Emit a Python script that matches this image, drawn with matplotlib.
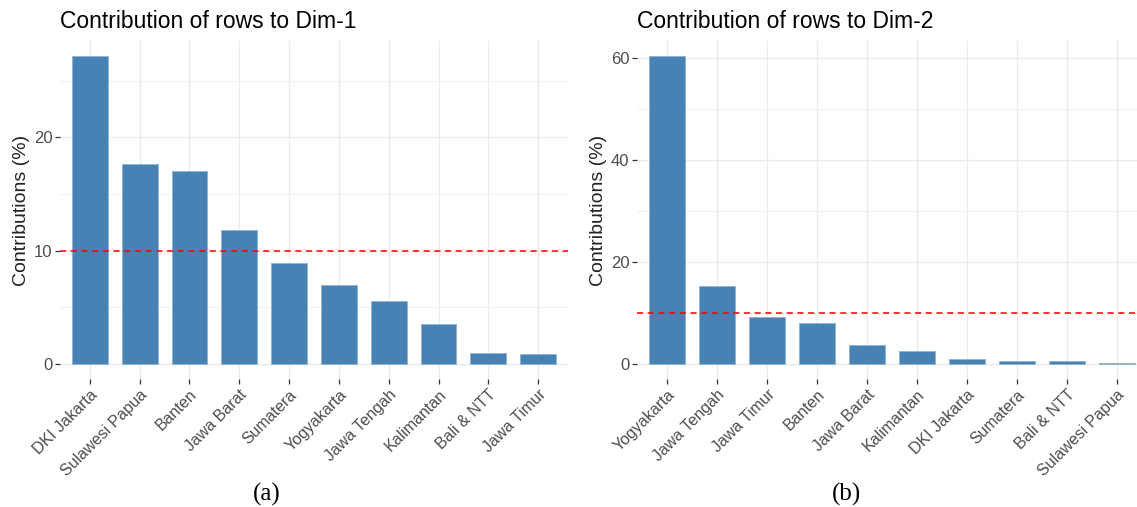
import matplotlib
matplotlib.use('Agg')
import matplotlib.pyplot as plt
import matplotlib.transforms as mtrans
import numpy as np

plt.rcParams['font.family'] = ['Liberation Sans', 'DejaVu Sans']

# contributions of rows, sorted as in each panel
dim1_labels = ['DKI Jakarta', 'Sulawesi Papua', 'Banten', 'Jawa Barat', 'Sumatera',
               'Yogyakarta', 'Jawa Tengah', 'Kalimantan', 'Bali & NTT', 'Jawa Timur']
dim1_values = [27.2, 17.7, 17.0, 11.8, 8.9, 7.0, 5.6, 3.5, 1.0, 0.9]

dim2_labels = ['Yogyakarta', 'Jawa Tengah', 'Jawa Timur', 'Banten', 'Jawa Barat',
               'Kalimantan', 'DKI Jakarta', 'Sumatera', 'Bali & NTT', 'Sulawesi Papua']
dim2_values = [60.5, 15.3, 9.2, 8.1, 3.8, 2.55, 1.0, 0.5, 0.5, 0.15]

expected = 10  # 100 / number of rows

bar_color = '#4682B4'
grid_color = '#EBEBEB'
text_grey = '#4D4D4D'

W, H = 1137, 507
fig = plt.figure(figsize=(W / 100, H / 100), dpi=100)


def draw_panel(rect, labels, values, title, major, caption, caption_x):
    ax = fig.add_axes(rect)
    x = np.arange(len(labels))
    ax.bar(x, values, width=0.72, color=bar_color, edgecolor='#8FB3D3',
           linewidth=0.6, zorder=3)
    ax.axhline(expected, color='red', linestyle=(0, (4, 3)), linewidth=1.1, zorder=4)

    top = max(values)
    ax.set_xlim(-0.6, len(labels) - 0.4)
    ax.set_ylim(-0.05 * top, top * 1.05)

    ax.set_xticks(x)
    ax.set_xticklabels(labels, rotation=45, ha='right', va='top',
                       rotation_mode='anchor', fontsize=11.5, color=text_grey)
    # nudge rotated labels a little right/down
    shift = mtrans.ScaledTranslation(5 / 100, -3 / 100, fig.dpi_scale_trans)
    for lab in ax.get_xticklabels():
        lab.set_transform(lab.get_transform() + shift)

    yt = np.arange(0, top + 1, major)
    ax.set_yticks(yt)
    ax.set_yticklabels([str(int(v)) for v in yt], fontsize=12, color=text_grey)
    ax.set_yticks(np.arange(major / 2, top * 1.05, major), minor=True)

    ax.grid(True, which='major', color=grid_color, linewidth=1.0, zorder=0)
    ax.grid(True, which='minor', axis='y', color='#F2F2F2', linewidth=0.8, zorder=0)
    ax.tick_params(axis='both', which='major', length=3.5, width=0.9, color='#333333',
                   pad=2)
    ax.tick_params(axis='y', which='minor', length=0)
    for s in ax.spines.values():
        s.set_visible(False)

    ax.set_ylabel('Contributions (%)', fontsize=14, color='#222222', labelpad=3)
    ax.set_title(title, loc='left', fontsize=16.5, color='black', pad=9)
    fig.text(caption_x / W, 1 - 494 / H, caption, ha='center', va='center',
             fontsize=18, family='Liberation Serif')
    return ax


bottom = 1 - 379.4 / H
height = 338.9 / H
draw_panel([60 / W, bottom, 508 / W, height], dim1_labels, dim1_values,
           'Contribution of rows to Dim-1', 10, '(a)', 267)
draw_panel([637 / W, bottom, 510 / W, height], dim2_labels, dim2_values,
           'Contribution of rows to Dim-2', 20, '(b)', 846)

fig.savefig('out.png', dpi=100, facecolor='white')
